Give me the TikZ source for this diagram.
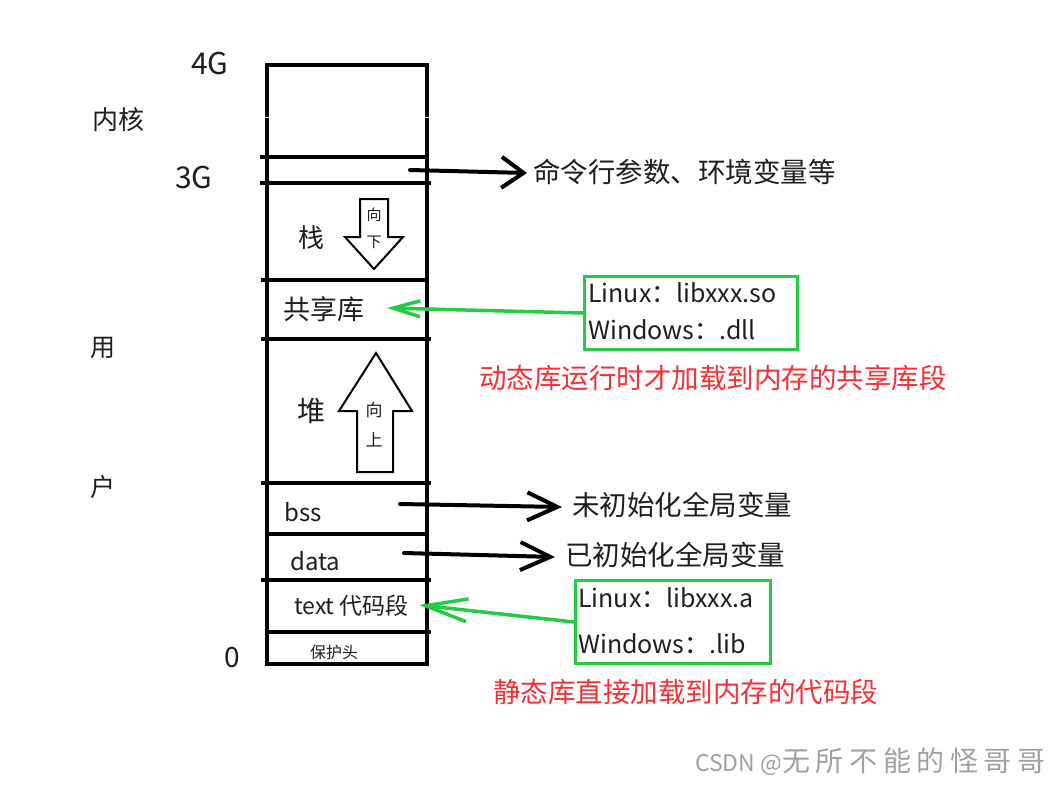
\documentclass[tikz,border=0pt]{standalone}
\usepackage{fontspec}
\setmainfont{Noto Sans CJK SC}
\usetikzlibrary{arrows.meta}
\definecolor{grn}{RGB}{34,204,68}
\definecolor{rd}{RGB}{250,45,50}
\definecolor{wm}{RGB}{160,160,160}
\definecolor{txt}{RGB}{30,30,30}
\newcommand{\fs}[1]{\fontsize{#1}{#1}\selectfont}
\begin{document}
\begin{tikzpicture}[x=1pt,y=-1pt,
  col/.style={line width=4pt, line cap=rect},
  bigarrow/.style={draw, line width=2pt, line join=miter, fill=white},
  lbl/.style={inner sep=0pt, text=txt},
  gbox/.style={draw=grn, line width=3pt, inner sep=0pt},
  barrow/.style 2 args={line width=4pt, line cap=round, -{Straight Barb[length=#1, width=#2, line width=4pt]}},
  garrow/.style 2 args={draw=grn, line width=3.5pt, line cap=round, -{Straight Barb[length=#1, width=#2, line width=3.5pt]}},
]
\useasboundingbox (0,0) rectangle (1059,785);

% ---- memory column ----
\draw[col] (267,65) -- (427,65);
\draw[col] (267,65) -- (267,115);
\draw[col] (267,120) -- (267,664);
\draw[col] (427,65) -- (427,115);
\draw[col] (427,120) -- (427,664);
\draw[col] (267,664) -- (427,664);
\draw[col] (262,157) -- (427,157);
\draw[col] (262,183) -- (429,183);
\draw[col] (263,280) -- (427,280);
\draw[col] (263,339) -- (429,339);
\draw[col] (263,483) -- (429,483);
\draw[col] (267,534) -- (427,534);
\draw[col] (263,580) -- (429,580);
\draw[col] (267,632) -- (429,632);

% stack arrow (down)
\draw[bigarrow] (360,199) -- (388,199) -- (388,237) -- (403,237) -- (374,269) -- (345,237) -- (360,237) -- cycle;
\node[lbl, font=\fs{15}] (sdown1) at (374,215) {向};
\node[lbl, font=\fs{15}] (sdown2) at (374,242) {下};
% heap arrow (up)
\draw[bigarrow] (376,353) -- (412,411) -- (393,411) -- (393,472) -- (357,472) -- (357,411) -- (339,411) -- cycle;
\node[lbl, font=\fs{17}] (hup1) at (374,410) {向};
\node[lbl, font=\fs{17}] (hup2) at (374,440) {上};

% segment labels
\node[lbl, font=\fs{26}] (stack) at (311,238) {栈};
\node[lbl, font=\fs{27}] (shlib) at (324,309) {共享库};
\node[lbl, font=\fs{28}] (heap) at (311,411) {堆};
\node[lbl, font=\fs{24}, anchor=west] (bss) at (284,512) {bss};
\node[lbl, font=\fs{24}, anchor=west] (data) at (290,561) {data};
\node[lbl, font=\fs{23}, anchor=west] (text) at (294,606) {text 代码段};
\node[lbl, font=\fs{16}] (guard) at (334,652) {保护头};

% left labels
\node[lbl, font=\fs{30}] (g4) at (210,64) {4G};
\node[lbl, font=\fs{30}] (g3) at (194,177) {3G};
\node[lbl, font=\fs{26}] (kern) at (118,120) {内核};
\node[lbl, font=\fs{25}] (yong) at (103,348) {用};
\node[lbl, font=\fs{25}] (hu) at (103,487) {户};
\node[lbl, font=\fs{28}] (zero) at (232,658) {0};

% right texts
\node[lbl, font=\fs{27.5}, anchor=west] (cmd) at (533,172) {命令行参数、环境变量等};
\node[lbl, font=\fs{27.5}, anchor=west] (uninit) at (572,505) {未初始化全局变量};
\node[lbl, font=\fs{27.5}, anchor=west] (init) at (565,555) {已初始化全局变量};
\node[lbl, font=\fs{27.5}, anchor=west, text=rd] (red1) at (479,378) {动态库运行时才加载到内存的共享库段};
\node[lbl, font=\fs{27.5}, anchor=west, text=rd] (red2) at (493,692) {静态库直接加载到内存的代码段};
\node[lbl, anchor=west, text=wm] (wmk) at (695,762) {{\fs{23}CSDN @}{\fs{28}\addfontfeatures{LetterSpace=20}无所不能的怪哥哥}};

% green boxes
\node[gbox, anchor=north west, minimum width=213pt, minimum height=73pt] (box1) at (583,275) {};
\node[lbl, font=\fs{25}, anchor=west] (b1l1) at (588,293) {Linux：libxxx.so};
\node[lbl, font=\fs{25}, anchor=west] (b1l2) at (588,330) {Windows：.dll};
\node[gbox, anchor=north west, minimum width=195pt, minimum height=83pt] (box2) at (574,579) {};
\node[lbl, font=\fs{25}, anchor=west] (b2l1) at (578,598) {Linux：libxxx.a};
\node[lbl, font=\fs{25}, anchor=west] (b2l2) at (578,644) {Windows：.lib};

% connectors
\coordinate (s1) at (410,170);
\coordinate (t1) at (527,173);
\coordinate (s2) at (400,504);
\coordinate (t2) at (562,507);
\coordinate (s3) at (404,553);
\coordinate (t3) at (555,557);
\coordinate (t4) at (387,308);
\coordinate (t5) at (419,605);
\draw[barrow={22pt}{31pt}] (s1) -- (t1);
\draw[barrow={30pt}{28pt}] (s2) -- (t2);
\draw[barrow={30pt}{28pt}] (s3) -- (t3);
\draw[garrow={27pt}{16pt}] (box1.west) -- (t4);
\draw[garrow={42pt}{23pt}] (box2.west) -- (t5);
\end{tikzpicture}
\end{document}
